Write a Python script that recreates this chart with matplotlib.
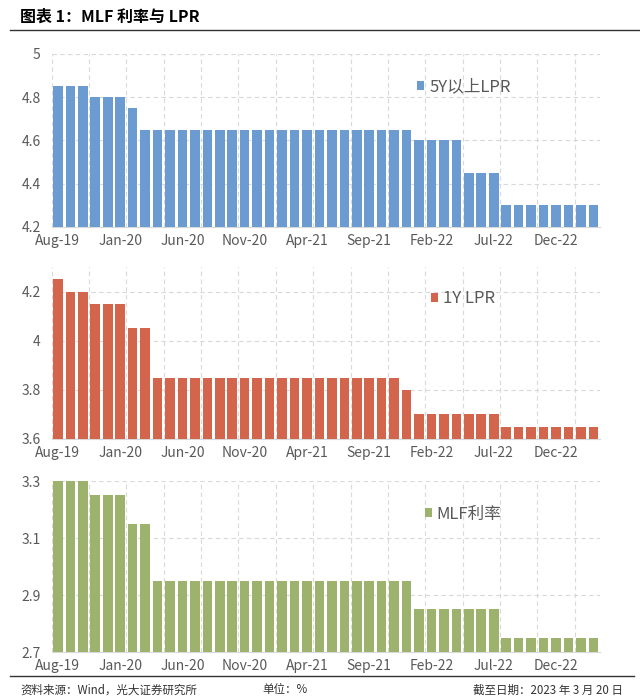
import matplotlib
matplotlib.use("Agg")
import matplotlib.pyplot as plt
from matplotlib.lines import Line2D

plt.rcParams['font.family'] = ['Noto Sans CJK SC', 'DejaVu Sans']

# monthly, Aug-19 .. Mar-23
months = ["Aug-19", "Sep-19", "Oct-19", "Nov-19", "Dec-19",
          "Jan-20", "Feb-20", "Mar-20", "Apr-20", "May-20", "Jun-20", "Jul-20",
          "Aug-20", "Sep-20", "Oct-20", "Nov-20", "Dec-20",
          "Jan-21", "Feb-21", "Mar-21", "Apr-21", "May-21", "Jun-21", "Jul-21",
          "Aug-21", "Sep-21", "Oct-21", "Nov-21", "Dec-21",
          "Jan-22", "Feb-22", "Mar-22", "Apr-22", "May-22", "Jun-22", "Jul-22",
          "Aug-22", "Sep-22", "Oct-22", "Nov-22", "Dec-22",
          "Jan-23", "Feb-23", "Mar-23"]

lpr_5y = [4.85, 4.85, 4.85, 4.80, 4.80, 4.80, 4.75,
          4.65, 4.65, 4.65, 4.65, 4.65, 4.65, 4.65, 4.65, 4.65, 4.65,
          4.65, 4.65, 4.65, 4.65, 4.65, 4.65, 4.65, 4.65, 4.65, 4.65, 4.65, 4.65,
          4.60, 4.60, 4.60, 4.60, 4.45, 4.45, 4.45,
          4.30, 4.30, 4.30, 4.30, 4.30, 4.30, 4.30, 4.30]

lpr_1y = [4.25, 4.20, 4.20, 4.15, 4.15, 4.15, 4.05, 4.05,
          3.85, 3.85, 3.85, 3.85, 3.85, 3.85, 3.85, 3.85, 3.85,
          3.85, 3.85, 3.85, 3.85, 3.85, 3.85, 3.85, 3.85, 3.85, 3.85, 3.85,
          3.80,
          3.70, 3.70, 3.70, 3.70, 3.70, 3.70, 3.70,
          3.65, 3.65, 3.65, 3.65, 3.65, 3.65, 3.65, 3.65]

mlf = [3.30, 3.30, 3.30, 3.25, 3.25, 3.25, 3.15, 3.15,
       2.95, 2.95, 2.95, 2.95, 2.95, 2.95, 2.95, 2.95, 2.95,
       2.95, 2.95, 2.95, 2.95, 2.95, 2.95, 2.95, 2.95, 2.95, 2.95, 2.95, 2.95,
       2.85, 2.85, 2.85, 2.85, 2.85, 2.85, 2.85,
       2.75, 2.75, 2.75, 2.75, 2.75, 2.75, 2.75, 2.75]

panels = [
    dict(values=lpr_5y, label="5Y以上LPR", color="#6B9BD1", ylim=(4.2, 5.0),
         yticks=[4.2, 4.4, 4.6, 4.8, 5.0], yticklabels=["4.2", "4.4", "4.6", "4.8", "5"],
         rect=[0.0808, 0.6753, 0.856, 0.2475], leg=(0.667, 0.809)),
    dict(values=lpr_1y, label="1Y LPR", color="#D2654B", ylim=(3.6, 4.3),
         yticks=[3.6, 3.8, 4.0, 4.2], yticklabels=["3.6", "3.8", "4", "4.2"],
         rect=[0.0808, 0.3720, 0.856, 0.2461], leg=(0.692, 0.814)),
    dict(values=mlf, label="MLF利率", color="#9CB26D", ylim=(2.7, 3.3),
         yticks=[2.7, 2.9, 3.1, 3.3], yticklabels=["2.7", "2.9", "3.1", "3.3"],
         rect=[0.0808, 0.0672, 0.856, 0.2446], leg=(0.681, 0.807)),
]

grid_c = "#D9D9D9"
text_c = "#595959"

fig = plt.figure(figsize=(6.4, 6.99), dpi=100)
x = list(range(len(months)))

for p in panels:
    ax = fig.add_axes(p["rect"])
    lo, hi = p["ylim"]
    ax.bar(x, [v - lo for v in p["values"]], bottom=lo, width=0.77,
           color=p["color"], label=p["label"], zorder=3)
    ax.set_xlim(-0.5, len(months) - 0.5)
    ax.set_ylim(lo, hi)
    ax.set_yticks(p["yticks"])
    ax.set_yticklabels(p["yticklabels"])
    ax.set_xticks(x[::5])
    ax.set_xticklabels(months[::5])
    ax.tick_params(length=0, labelsize=10, colors=text_c)
    ax.tick_params(axis="y", pad=8)
    ax.tick_params(axis="x", pad=5)
    for s in ["top", "right", "left"]:
        ax.spines[s].set_visible(False)
    ax.spines["bottom"].set_color(grid_c)
    ax.spines["bottom"].set_linewidth(0.8)
    for yt in p["yticks"][1:]:
        ax.axhline(yt, color=grid_c, lw=0.8, ls=(0, (4, 3)), zorder=1)
    for b in range(0, len(months) - 1, 3):
        ax.axvline(b - 0.5, color=grid_c, lw=0.8, ls=(0, (4, 3)), zorder=1)
    ax.legend(loc="center left", bbox_to_anchor=p["leg"], frameon=False,
              fontsize=12, handlelength=0.42, handleheight=0.42,
              handletextpad=0.3, borderpad=0, borderaxespad=0, labelcolor=text_c)

fig.text(0.032, 0.976, "图表 1：MLF 利率与 LPR", fontsize=11.5, fontweight="bold",
         color="black", va="center", ha="left")
fig.add_artist(Line2D([0.015, 1.0], [1 - 30 / 699, 1 - 30 / 699],
                      color="#333333", lw=1.0))
fig.add_artist(Line2D([0.015, 0.99], [1 - 676 / 699, 1 - 676 / 699],
                      color="#333333", lw=1.0))
fig.text(0.032, 1 - 690 / 699, "资料来源：Wind，光大证券研究所", fontsize=8.3,
         color="#333333", va="center", ha="left")
fig.text(0.445, 1 - 690 / 699, "单位：%", fontsize=8.3,
         color="#333333", va="center", ha="center")
fig.text(0.974, 1 - 690 / 699, "截至日期：2023 年 3 月 20 日", fontsize=8.3,
         color="#333333", va="center", ha="right")

fig.savefig("out.png", dpi=100)
